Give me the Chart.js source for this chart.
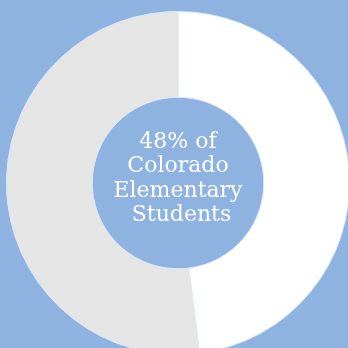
<!DOCTYPE html>
<html><head><meta charset="utf-8">
<script src="https://cdn.jsdelivr.net/npm/chart.js@4/dist/chart.umd.min.js"></script>
<style>
html,body{margin:0;padding:0;width:348px;height:348px;overflow:hidden;background:#8eb3e0;}
#wrap{position:absolute;left:6px;top:11px;width:344px;height:344px;}
</style></head><body>
<div id="wrap"><canvas id="c"></canvas></div>
<script>
const categories = ["Colorado Elementary Students", "Other"];
const values = [48, 52];
const centerLines = ["48% of", "Colorado", "Elementary", " Students"];

const centerText = {
  id: 'centerText',
  afterDraw(chart) {
    const ctx = chart.ctx;
    const meta = chart.getDatasetMeta(0).data[0];
    const x = meta.x, y = meta.y;
    ctx.save();
    ctx.fillStyle = '#ffffff';
    ctx.font = '22px "DejaVu Serif"';
    ctx.textAlign = 'center';
    ctx.textBaseline = 'middle';
    const lh = 24.5;
    const start = y - 4 - lh * (centerLines.length - 1) / 2;
    centerLines.forEach((l, i) => ctx.fillText(l, x, start + i * lh));
    ctx.restore();
  }
};

new Chart(document.getElementById('c'), {
  type: 'doughnut',
  data: {
    labels: categories,
    datasets: [{
      data: values,
      backgroundColor: ['#ffffff', '#e5e5e5'],
      borderColor: '#dce8f7',
      borderWidth: 1
    }]
  },
  options: {
    responsive: true,
    maintainAspectRatio: false,
    animation: false,
    cutout: '50%',
    layout: { padding: 0 },
    plugins: { legend: { display: false }, tooltip: { enabled: false } }
  },
  plugins: [centerText]
});
</script>
</body></html>
